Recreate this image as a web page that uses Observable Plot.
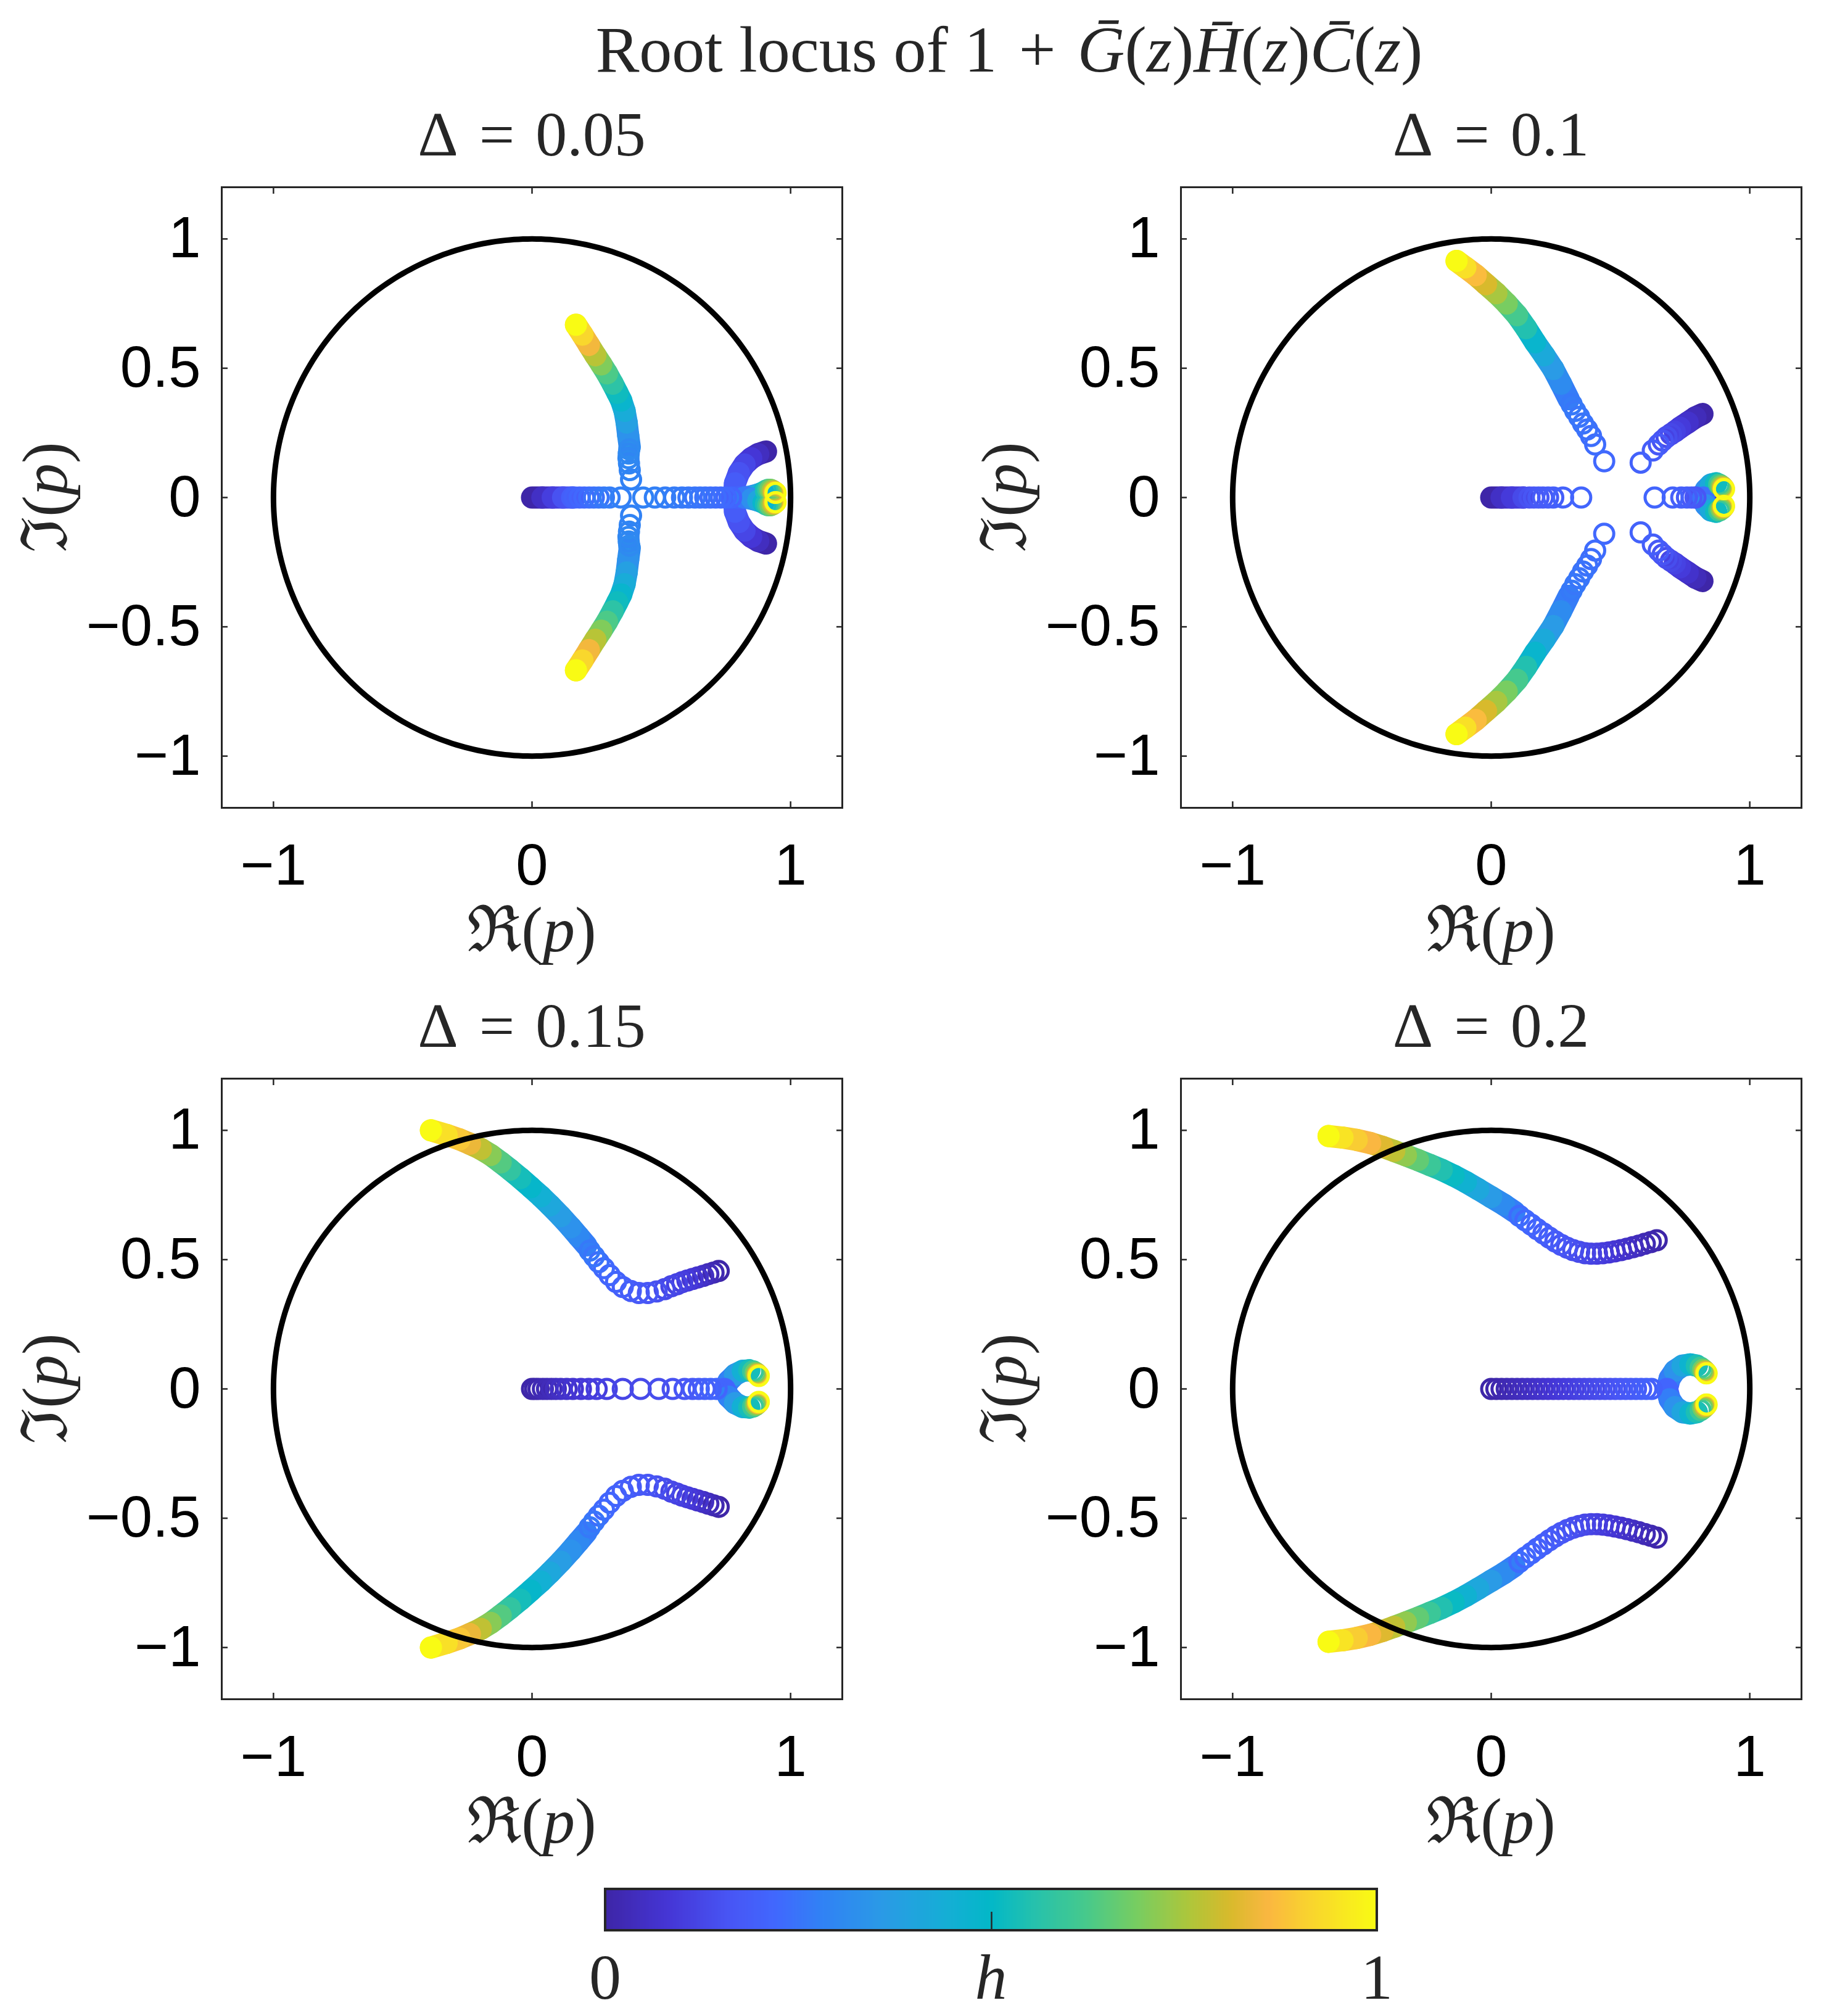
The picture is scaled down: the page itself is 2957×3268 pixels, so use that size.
<!DOCTYPE html>
<html><head><meta charset="utf-8">
<script src="https://cdn.jsdelivr.net/npm/d3@7"></script>
<script src="https://cdn.jsdelivr.net/npm/@observablehq/plot@0.6"></script>
<style>
html,body{margin:0;padding:0;background:#fff}
#fig{position:relative;width:2957px;height:3268px;background:#fff;overflow:hidden}
.abs{position:absolute}
</style></head><body><div id="fig"></div>
<script>
// ---------- colormap (parula) ----------
const parulaT   = [0, 0.08, 0.16, 0.22, 0.28, 0.36, 0.44, 0.5, 0.56, 0.62, 0.69, 0.76, 0.81, 0.86, 0.91, 1];
const parulaHex = ["#3e26a8","#4536d6","#4856f5","#4168fe","#3182f5","#2a9be6","#16aed6","#03b8c8","#28c2ab","#45c98e","#78cd61","#b0c63a","#d8ba2c","#fab741","#f9d230","#f9fb14"];

// ---------- axes ----------
const xDomain = [-1.2, 1.2];
const yDomain = [-1.2, 1.2];
const xTicks = [-1, 0, 1];
const yTicks = [-1, -0.5, 0, 0.5, 1];
const deltaLabels = ["0.05", "0.1", "0.15", "0.2"];
const colorbarTicks = [0, 0.5, 1];

// ---------- data: [Re(p), Im(p), h]  (upper half; conjugates mirrored) ----------
// Panel 1: Δ = 0.05
const p1OriginBand = [[0,0,0],[0.04,0,0.05],[0.08,0,0.1],[0.12,0,0.15],[0.155,0,0.19]];
const p1OriginRings = [[0.165,0,0.2],[0.184,0,0.21],[0.202,0,0.22],[0.221,0,0.23],[0.239,0,0.24],[0.258,0,0.25],[0.278,0,0.26],[0.3,0,0.27],[0.343,0,0.275]];
const p1BreakRings = [[0.383,0.07,0.28],[0.378,0.106,0.285],[0.375,0.132,0.29],[0.373,0.152,0.295],[0.374,0.17,0.3],[0.376,0.186,0.305]];
const p1ArcBand = [[0.378,0.195,0.31],[0.372,0.24,0.33],[0.366,0.29,0.38],[0.358,0.335,0.43],[0.345,0.375,0.48],[0.33,0.405,0.52],[0.312,0.44,0.57],[0.29,0.48,0.63],[0.268,0.515,0.7],[0.245,0.55,0.77],[0.22,0.59,0.85],[0.195,0.63,0.92],[0.17,0.668,1.0]];
const p1PoleBand = [[0.905,0.178,0],[0.875,0.168,0.04],[0.848,0.152,0.08],[0.822,0.128,0.12],[0.8,0.095,0.15],[0.785,0.055,0.18],[0.78,0,0.2]];
const p1LeftRings = [[0.77,0,0.21],[0.75,0,0.22],[0.73,0,0.225],[0.71,0,0.23],[0.69,0,0.235],[0.67,0,0.24],[0.65,0,0.245],[0.63,0,0.25],[0.605,0,0.255],[0.58,0,0.26],[0.55,0,0.265],[0.515,0,0.27],[0.475,0,0.275],[0.43,0,0.28]];
const p1RightBand = [[0.79,0,0.2],[0.82,0,0.26],[0.85,0.005,0.32],[0.875,0.012,0.4],[0.895,0.02,0.48]];
const p1EndRings = [[0.905,0.026,0.54],[0.914,0.03,0.6],[0.922,0.03,0.67],[0.93,0.026,0.74],[0.936,0.022,0.82],[0.94,0.019,0.9],[0.942,0.018,1.0]];

// Panel 2: Δ = 0.1
const p2OriginBand = [[0,0,0],[0.04,0,0.05],[0.08,0,0.09],[0.125,0,0.13]];
const p2OriginRings = [[0.148,0,0.15],[0.165,0,0.16],[0.183,0,0.17],[0.2,0,0.175],[0.22,0,0.18],[0.24,0,0.19],[0.278,0,0.2],[0.348,0,0.21]];
const p2LeftRings = [[0.437,0.14,0.22],[0.402,0.205,0.23],[0.386,0.238,0.235],[0.371,0.263,0.24],[0.355,0.286,0.245],[0.34,0.312,0.25],[0.325,0.335,0.255],[0.311,0.36,0.26]];
const p2ArcBand = [[0.3,0.38,0.265],[0.27,0.44,0.31],[0.24,0.497,0.36],[0.205,0.55,0.42],[0.17,0.6,0.48],[0.135,0.655,0.55],[0.1,0.705,0.62],[0.06,0.75,0.69],[0.02,0.79,0.75],[-0.02,0.825,0.81],[-0.06,0.86,0.87],[-0.1,0.89,0.94],[-0.134,0.915,1.0]];
const p2PoleBand = [[0.817,0.323,0],[0.79,0.31,0.03],[0.76,0.29,0.06],[0.73,0.27,0.09],[0.71,0.255,0.11]];
const p2PoleRings = [[0.695,0.245,0.125],[0.678,0.234,0.14],[0.663,0.22,0.155],[0.648,0.205,0.17],[0.625,0.182,0.185],[0.578,0.135,0.2]];
const p2RightRings = [[0.79,0,0.16],[0.775,0,0.17],[0.757,0,0.18],[0.735,0,0.19],[0.702,0,0.2],[0.632,0,0.21]];
const p2StartBand = [[0.868,0,0],[0.84,0,0.06],[0.81,0,0.12],[0.795,0,0.15]];
const p2BlobBand = [[0.82,0,0.24],[0.83,0.03,0.32],[0.85,0.05,0.42],[0.87,0.055,0.52]];
const p2EndRings = [[0.882,0.05,0.6],[0.89,0.045,0.68],[0.895,0.04,0.76],[0.898,0.036,0.84],[0.9,0.034,0.92],[0.9,0.032,1.0]];

// Panel 3: Δ = 0.15
const p3AxisRings = [[0,0,0],[0.012,0,0.005],[0.025,0,0.01],[0.042,0,0.02],[0.058,0,0.025],[0.075,0,0.03],[0.092,0,0.04],[0.111,0,0.05],[0.134,0,0.06],[0.158,0,0.07],[0.189,0,0.08],[0.219,0,0.09],[0.25,0,0.1],[0.289,0,0.11],[0.351,0,0.12],[0.42,0,0.13],[0.49,0,0.14],[0.544,0,0.15],[0.59,0,0.16],[0.621,0,0.17],[0.645,0,0.18],[0.668,0,0.19],[0.691,0,0.2],[0.714,0,0.21]];
const p3ArcRings = [[0.722,0.456,0],[0.702,0.45,0.015],[0.682,0.444,0.03],[0.662,0.437,0.045],[0.641,0.431,0.06],[0.621,0.425,0.075],[0.601,0.419,0.09],[0.581,0.413,0.1],[0.561,0.405,0.11],[0.539,0.397,0.12],[0.513,0.386,0.13],[0.482,0.377,0.145],[0.448,0.371,0.16],[0.413,0.371,0.17],[0.382,0.379,0.18],[0.351,0.394,0.19],[0.325,0.414,0.2],[0.3,0.44,0.21],[0.278,0.467,0.22],[0.258,0.49,0.235],[0.24,0.513,0.25],[0.223,0.535,0.26]];
const p3ArcBand = [[0.21,0.555,0.27],[0.18,0.59,0.3],[0.15,0.625,0.33],[0.111,0.668,0.37],[0.07,0.71,0.41],[0.034,0.745,0.45],[-0.005,0.78,0.49],[-0.045,0.815,0.53],[-0.085,0.848,0.58],[-0.121,0.876,0.64],[-0.16,0.905,0.71],[-0.198,0.928,0.78],[-0.24,0.948,0.84],[-0.28,0.965,0.89],[-0.33,0.982,0.94],[-0.391,1.0,1.0]];
const p3BlobBand = [[0.745,0,0.21],[0.76,0.03,0.28],[0.785,0.055,0.36],[0.815,0.07,0.45],[0.84,0.072,0.53]];
const p3EndRings = [[0.855,0.068,0.6],[0.865,0.062,0.68],[0.871,0.057,0.76],[0.874,0.054,0.84],[0.876,0.052,0.92],[0.877,0.05,1.0]];

// Panel 4: Δ = 0.2
const p4AxisRings = [[0,0,0],[0.02,0,0.006],[0.04,0,0.012],[0.06,0,0.018],[0.08,0,0.025],[0.1,0,0.03],[0.12,0,0.037],[0.14,0,0.044],[0.16,0,0.05],[0.18,0,0.056],[0.2,0,0.063],[0.22,0,0.07],[0.24,0,0.076],[0.26,0,0.082],[0.28,0,0.09],[0.3,0,0.095],[0.32,0,0.1],[0.34,0,0.108],[0.36,0,0.114],[0.38,0,0.12],[0.4,0,0.127],[0.42,0,0.134],[0.44,0,0.14],[0.46,0,0.146],[0.48,0,0.153],[0.5,0,0.16],[0.52,0,0.166],[0.54,0,0.172],[0.56,0,0.18],[0.58,0,0.186],[0.6,0,0.192],[0.62,0,0.2]];
const p4ArcRings = [[0.64,0.575,0],[0.617,0.568,0.01],[0.594,0.561,0.02],[0.571,0.554,0.03],[0.548,0.548,0.04],[0.525,0.542,0.05],[0.502,0.537,0.06],[0.478,0.532,0.07],[0.455,0.528,0.08],[0.432,0.525,0.09],[0.409,0.523,0.1],[0.386,0.523,0.11],[0.363,0.525,0.12],[0.34,0.53,0.13],[0.317,0.537,0.14],[0.294,0.546,0.15],[0.271,0.557,0.16],[0.248,0.57,0.17],[0.225,0.585,0.18],[0.202,0.601,0.19],[0.178,0.618,0.2],[0.155,0.635,0.21],[0.132,0.652,0.22],[0.109,0.669,0.23]];
const p4ArcBand = [[0.09,0.685,0.27],[0.05,0.712,0.31],[0.0,0.742,0.36],[-0.05,0.772,0.41],[-0.098,0.8,0.46],[-0.145,0.825,0.51],[-0.191,0.847,0.55],[-0.237,0.866,0.6],[-0.283,0.885,0.66],[-0.33,0.903,0.72],[-0.375,0.92,0.78],[-0.42,0.936,0.82],[-0.468,0.951,0.86],[-0.52,0.963,0.9],[-0.575,0.972,0.95],[-0.629,0.978,1.0]];
const p4BlobBand = [[0.68,0,0.21],[0.69,0.04,0.27],[0.71,0.07,0.33],[0.74,0.09,0.4],[0.77,0.095,0.47],[0.795,0.09,0.54]];
const p4EndRings = [[0.81,0.082,0.6],[0.82,0.074,0.68],[0.826,0.068,0.76],[0.83,0.064,0.84],[0.832,0.061,0.92],[0.833,0.06,1.0]];

// ---------- panel definitions: [band, mirrored?] ----------
const panels = [
  {left: 359,  top: 303,  bands: [[p1OriginBand,false],[p1PoleBand,true],[p1RightBand,true],[p1ArcBand,true]],
   rings: [p1OriginRings, p1BreakRings, p1LeftRings, p1EndRings]},
  {left: 1914, top: 303,  bands: [[p2OriginBand,false],[p2StartBand,false],[p2PoleBand,true],[p2BlobBand,true],[p2ArcBand,true]],
   rings: [p2OriginRings, p2LeftRings, p2PoleRings, p2RightRings, p2EndRings]},
  {left: 359,  top: 1748, bands: [[p3BlobBand,true],[p3ArcBand,true]],
   rings: [p3AxisRings, p3ArcRings, p3EndRings]},
  {left: 1914, top: 1748, bands: [[p4BlobBand,true],[p4ArcBand,true]],
   rings: [p4AxisRings, p4ArcRings, p4EndRings]}
];

// ---------- helpers ----------
const parulaScale = d3.scaleLinear().domain(parulaT).range(parulaHex).interpolate(d3.interpolateRgb).clamp(true);
const parula = (t) => parulaScale(t);

function bandRows(bands) {
  const out = [];
  bands.forEach(([pts, mirror], i) => {
    pts.forEach(([x, y, h]) => out.push({x, y, h, id: "b" + i}));
    if (mirror) pts.forEach(([x, y, h]) => out.push({x, y: -y, h, id: "b" + i + "c"}));
  });
  return out;
}
function ringRows(rings) {
  const out = [];
  rings.forEach(pts => pts.forEach(([x, y, h]) => {
    out.push({x, y, h});
    if (y !== 0) out.push({x, y: -y, h});
  }));
  out.sort((a, b) => a.h - b.h);
  return out;
}
const unitCircleDeg = d3.range(0, 361, 1);
const circleRows = unitCircleDeg.map(a => ({x: Math.cos(a * Math.PI / 180), y: Math.sin(a * Math.PI / 180)}));

const ML = 230, MR = 24, MT = 24, MB = 140, FW = 1006, FH = 1006;
const tickFont = "'Liberation Sans', Arial, Helvetica, sans-serif";
const texFont = "'Liberation Serif', 'DejaVu Serif', 'Times New Roman', serif";
const axisInk = "#262626";
const tickFmt = d3.format("~g");

const fig = document.getElementById("fig");

panels.forEach((def) => {
  const chart = Plot.plot({
    width: ML + FW + MR, height: MT + FH + MB,
    marginLeft: ML, marginRight: MR, marginTop: MT, marginBottom: MB,
    x: {domain: xDomain},
    y: {domain: yDomain},
    color: {type: "linear", domain: [0, 1], interpolate: parula},
    style: {fontFamily: tickFont, color: "#000", background: "transparent", overflow: "visible"},
    marks: [
      Plot.line(bandRows(def.bands), {x: "x", y: "y", z: "id", stroke: "h", strokeWidth: 36, strokeLinecap: "round", strokeLinejoin: "round"}),
      Plot.dot(ringRows(def.rings), {x: "x", y: "y", stroke: "h", r: 15.5, strokeWidth: 5, fill: "none"}),
      Plot.line(circleRows, {x: "x", y: "y", stroke: "black", strokeWidth: 9}),
      Plot.frame({stroke: axisInk, strokeWidth: 3}),
      Plot.axisX(xTicks, {anchor: "bottom", tickSize: 0, tickPadding: 58, label: null, fontSize: 94, tickFormat: tickFmt}),
      Plot.axisY(yTicks, {anchor: "left", tickSize: 0, tickPadding: 34, label: null, fontSize: 94, tickFormat: tickFmt}),
      Plot.axisX(xTicks, {anchor: "bottom", tickSize: -10, fill: "none", label: null, stroke: axisInk, strokeWidth: 2.5}),
      Plot.axisX(xTicks, {anchor: "top", tickSize: -10, fill: "none", label: null, stroke: axisInk, strokeWidth: 2.5}),
      Plot.axisY(yTicks, {anchor: "left", tickSize: -10, fill: "none", label: null, stroke: axisInk, strokeWidth: 2.5}),
      Plot.axisY(yTicks, {anchor: "right", tickSize: -10, fill: "none", label: null, stroke: axisInk, strokeWidth: 2.5})
    ]
  });
  const wrap = document.createElement("div");
  wrap.className = "abs";
  wrap.style.left = (def.left - ML) + "px";
  wrap.style.top = (def.top - MT) + "px";
  wrap.appendChild(chart);
  fig.appendChild(wrap);
});

// ---------- colorbar (Plot legend) ----------
const CB = {left: 981, top: 3062, width: 1251, height: 67};
const legend = Plot.legend({
  color: {type: "linear", domain: [0, 1], interpolate: parula},
  width: CB.width, height: CB.height,
  marginTop: 0, marginBottom: 0, marginLeft: 0, marginRight: 0,
  ticks: colorbarTicks, tickSize: 0, tickFormat: () => "", label: null
});
const legSvg = legend.tagName.toLowerCase() === "svg" ? legend : legend.querySelector("svg");
legSvg.style.overflow = "visible";
const ls = d3.select(legSvg);
ls.selectAll(".tick line").attr("y1", -30).attr("y2", 0).attr("stroke", axisInk).attr("stroke-width", 2.5)
  .style("display", (d) => (d === 0.5 ? null : "none"));
ls.append("rect").attr("x", 0).attr("y", 0).attr("width", CB.width).attr("height", CB.height)
  .attr("fill", "none").attr("stroke", axisInk).attr("stroke-width", 4);
const legWrap = document.createElement("div");
legWrap.className = "abs";
legWrap.style.left = CB.left + "px";
legWrap.style.top = CB.top + "px";
legWrap.appendChild(legend);
fig.appendChild(legWrap);

// ---------- text overlay ----------
const overlay = d3.create("svg").attr("width", 2957).attr("height", 3268)
  .style("position", "absolute").style("left", "0px").style("top", "0px").style("pointer-events", "none")
  .style("font-family", texFont).style("white-space", "pre");
function addText(x, y, parts, size, rotate) {
  const t = overlay.append("text").attr("text-anchor", "middle").attr("font-size", size).attr("fill", "#262626");
  if (rotate) t.attr("transform", `translate(${x},${y}) rotate(${rotate})`);
  else t.attr("x", x).attr("y", y);
  parts.forEach(([s, it]) => t.append("tspan").attr("font-style", it ? "italic" : "normal").text(s));
  return t;
}
addText(1636, 116, [["Root locus of 1\u2004+\u2004", false], ["G\u0304", true], ["(", false], ["z", true], [")", false],
  ["H\u0304", true], ["(", false], ["z", true], [")", false], ["C\u0304", true], ["(", false], ["z", true], [")", false]], 106);
panels.forEach((def, i) => {
  const cx = def.left + FW / 2, cy = def.top + FH / 2;
  addText(cx, def.top - 51, [["\u0394\u2004=\u2004" + deltaLabels[i], false]], 102);
  addText(cx, def.top + 1239, [["\u211C(", false], ["p", true], [")", false]], 104);
  addText(def.left - 251, cy, [["\u2111(", false], ["p", true], [")", false]], 104, -90);
});
addText(CB.left, 3240, [["0", false]], 104);
addText(CB.left + CB.width / 2, 3240, [["h", true]], 104);
addText(CB.left + CB.width, 3240, [["1", false]], 104);
fig.appendChild(overlay.node());
</script></body></html>
